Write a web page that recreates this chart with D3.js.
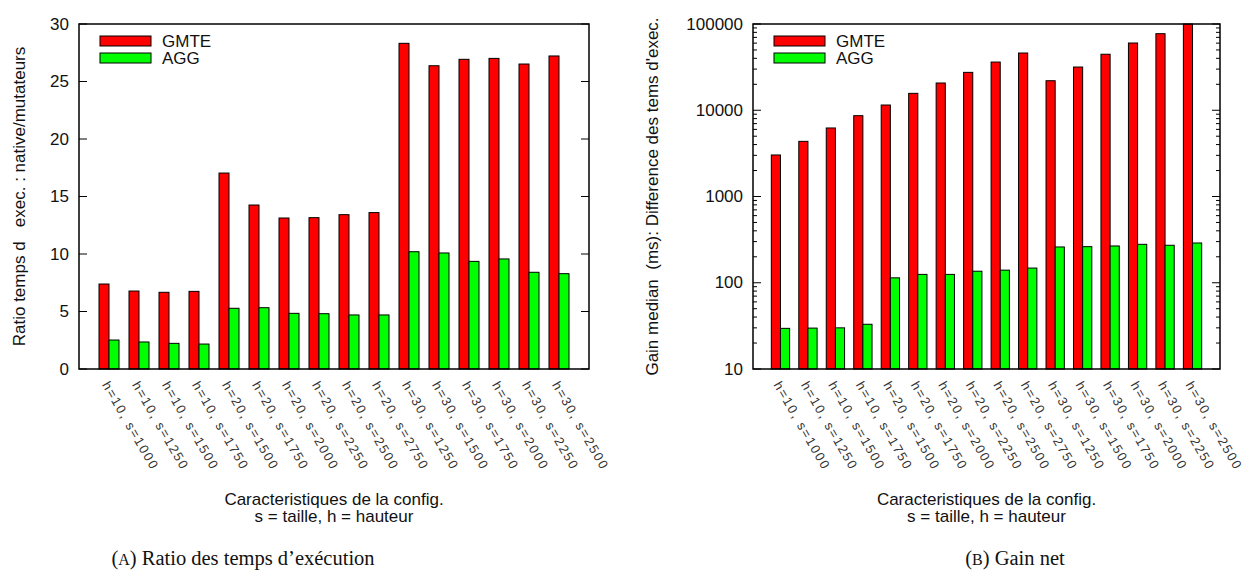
<!DOCTYPE html>
<html>
<head>
<meta charset="utf-8">
<script src="https://cdn.jsdelivr.net/npm/d3@7"></script>
<style>
  body { margin: 0; background: #fff; }
  text { font-family: "Liberation Sans", Arial, sans-serif; fill: #111; }
</style>
</head>
<body>
<div class="canvas"></div>
<script>
var width = 1244,
    height = 588;

// configurations (same for both panels)
var configs = ["h=10, s=1000", "h=10, s=1250", "h=10, s=1500", "h=10, s=1750",
    "h=20, s=1500", "h=20, s=1750", "h=20, s=2000", "h=20, s=2250", "h=20, s=2500", "h=20, s=2750",
    "h=30, s=1250", "h=30, s=1500", "h=30, s=1750", "h=30, s=2000", "h=30, s=2250", "h=30, s=2500"];
var seriesNames = ["GMTE", "AGG"];

// (A) ratio native/mutateurs
var ratioGMTE = [7.39, 6.78, 6.67, 6.75, 17.04, 14.26, 13.13, 13.16, 13.42, 13.6, 28.32, 26.37, 26.93, 27.01, 26.52, 27.22];
var ratioAGG = [2.52, 2.35, 2.23, 2.17, 5.28, 5.33, 4.84, 4.81, 4.7, 4.7, 10.2, 10.09, 9.36, 9.57, 8.41, 8.29];
var ratioTicks = [0, 5, 10, 15, 20, 25, 30];

// (B) gain net (ms)
var gainGMTE = [3030, 4360, 6230, 8650, 11500, 15700, 20700, 27500, 36200, 46100, 22000, 31700, 44600, 60200, 77200, 100000];
var gainAGG = [29.6, 29.8, 30, 33, 114, 125, 125, 136, 140, 148, 260, 262, 267, 279, 272, 289];
var gainTicks = [10, 100, 1000, 10000, 100000];

var colors = ["#ff0000", "#00ff00"];

var svg = d3.select(".canvas").append("svg")
    .attr("width", width)
    .attr("height", height);

var plotTop = 24, plotBottom = 369;

drawPanel({
    left: 79, right: 589,
    y: d3.scaleLinear().domain([0, 30]).range([plotBottom, plotTop]),
    ticks: ratioTicks, minor: [],
    data: [ratioGMTE, ratioAGG],
    ylabel: "Ratio temps d   exec. : native/mutateurs",
    ylabelX: 19
});

var gainMinor = [];
for (var d = 10; d < 100000; d *= 10) {
    for (var m = 2; m <= 9; m++) gainMinor.push(d * m);
}

drawPanel({
    left: 753, right: 1220,
    y: d3.scaleLog().domain([10, 100000]).range([plotBottom, plotTop]),
    ticks: gainTicks, minor: gainMinor,
    data: [gainGMTE, gainAGG],
    ylabel: "Gain median  (ms): Difference des tems d'exec.",
    ylabelX: 652
});

// captions
caption(243, "A", " Ratio des temps d\u2019ex\u00e9cution");
caption(1015, "B", " Gain net");

function caption(cx, letter, rest) {
    var t = svg.append("text")
        .attr("x", cx).attr("y", 565)
        .attr("text-anchor", "middle")
        .style("font-family", "'Liberation Serif', 'DejaVu Serif', serif")
        .style("font-size", "20.5px");
    t.append("tspan").text("(");
    t.append("tspan").style("font-size", "16px").text(letter);
    t.append("tspan").text(")" + rest);
}

function drawPanel(p) {
    var g = svg.append("g");
    var x = d3.scaleLinear().domain([-1, configs.length]).range([p.left, p.right]);
    var slot = x(1) - x(0);
    var bw = slot / 3;

    // bars
    p.data.forEach(function(vals, s) {
        g.selectAll(".bar" + s)
            .data(vals)
            .enter().append("rect")
            .attr("x", function(v, i) { return x(i) - bw + s * bw; })
            .attr("y", function(v) { return p.y(v); })
            .attr("width", bw)
            .attr("height", function(v) { return plotBottom - p.y(v); })
            .style("fill", colors[s])
            .style("stroke", "#000")
            .style("stroke-width", 1);
    });

    // frame
    g.append("rect")
        .attr("x", p.left).attr("y", plotTop)
        .attr("width", p.right - p.left).attr("height", plotBottom - plotTop)
        .style("fill", "none").style("stroke", "#000").style("stroke-width", 1.5);

    // y ticks, both sides
    p.ticks.forEach(function(t) {
        var yy = p.y(t);
        g.append("line").attr("x1", p.left).attr("x2", p.left + 8).attr("y1", yy).attr("y2", yy)
            .style("stroke", "#000");
        g.append("line").attr("x1", p.right).attr("x2", p.right - 8).attr("y1", yy).attr("y2", yy)
            .style("stroke", "#000");
        g.append("text")
            .attr("x", p.left - 10).attr("y", yy)
            .attr("text-anchor", "end")
            .attr("dominant-baseline", "central")
            .style("font-size", "17px")
            .text(t);
    });
    p.minor.forEach(function(t) {
        var yy = p.y(t);
        g.append("line").attr("x1", p.left).attr("x2", p.left + 4).attr("y1", yy).attr("y2", yy)
            .style("stroke", "#000");
        g.append("line").attr("x1", p.right).attr("x2", p.right - 4).attr("y1", yy).attr("y2", yy)
            .style("stroke", "#000");
    });

    // x labels, rotated
    configs.forEach(function(c, i) {
        g.append("text")
            .attr("transform", "translate(" + (x(i) + 1) + ",380) rotate(60)")
            .attr("dominant-baseline", "hanging")
            .style("font-size", "13px")
            .style("letter-spacing", "1.7px")
            .style("fill", "#333")
            .text(c);
    });

    // axis titles
    var cx = (p.left + p.right) / 2;
    g.append("text").attr("x", cx).attr("y", 505).attr("text-anchor", "middle")
        .style("font-size", "17px").text("Caracteristiques de la config.");
    g.append("text").attr("x", cx).attr("y", 522).attr("text-anchor", "middle")
        .style("font-size", "17px").text("s = taille, h = hauteur");
    g.append("text")
        .attr("transform", "translate(" + p.ylabelX + "," + ((plotTop + plotBottom) / 2) + ") rotate(-90)")
        .attr("text-anchor", "middle")
        .attr("dominant-baseline", "central")
        .style("font-size", "17px")
        .style("white-space", "pre")
        .text(p.ylabel);

    // legend
    seriesNames.forEach(function(n, s) {
        g.append("rect")
            .attr("x", p.left + 21).attr("y", 36 + s * 17)
            .attr("width", 51).attr("height", 10)
            .style("fill", colors[s]).style("stroke", "#000");
        g.append("text")
            .attr("x", p.left + 83).attr("y", 41 + s * 17)
            .attr("dominant-baseline", "central")
            .style("font-size", "17px")
            .text(n);
    });
}
</script>
</body>
</html>
